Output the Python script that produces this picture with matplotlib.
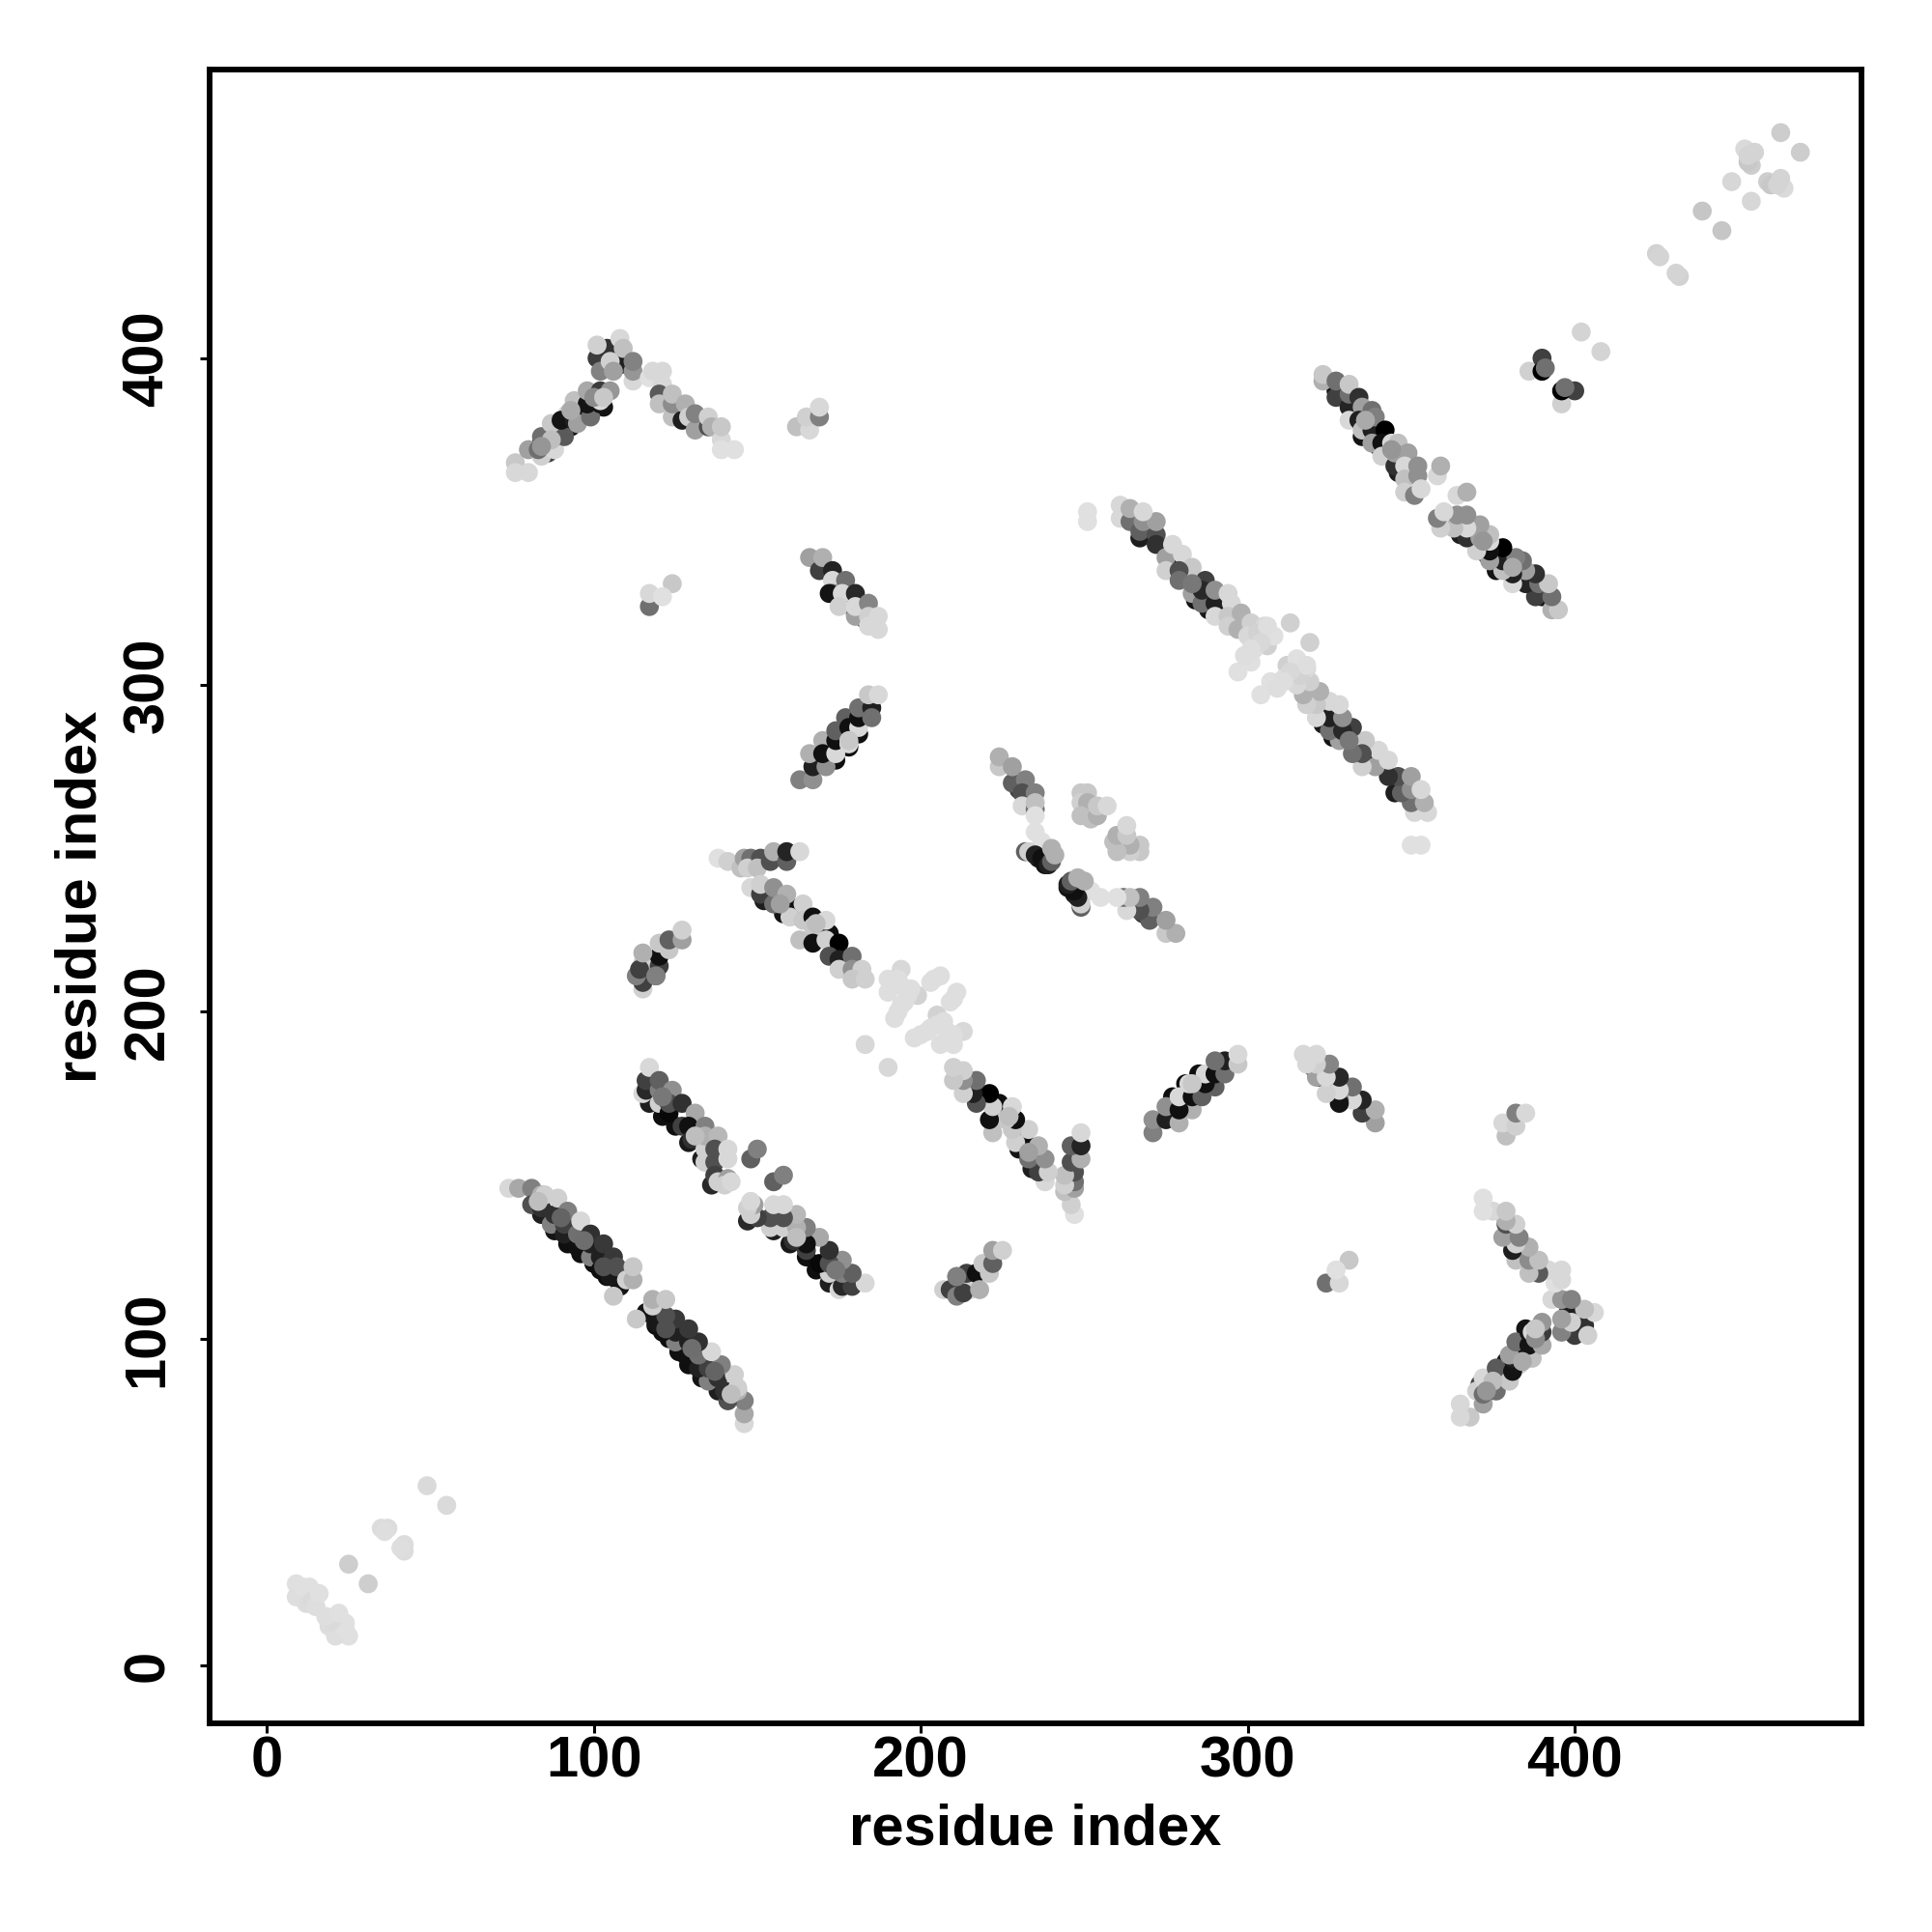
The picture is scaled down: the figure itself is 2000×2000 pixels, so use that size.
import matplotlib
matplotlib.use("Agg")
import matplotlib.pyplot as plt

# Contact map, symmetric: only i < j is listed here, the mirror is drawn too.
# g is the grey level (0 black, 255 white)
diag_low_x = [49, 35, 37, 36, 25, 9, 9, 12, 11, 13, 13, 14, 15, 16]
diag_low_y = [55, 42, 42, 41, 31, 25, 21, 19, 24, 24, 19, 20, 18, 22]
diag_low_g = [218, 220, 220, 222, 206, 224, 222, 222, 224, 224, 220, 218, 222, 224]

diag_high_x = [463, 448, 439, 425, 426, 452, 454, 453, 455, 453, 402]
diag_high_y = [469, 454, 445, 432, 431, 464, 459, 460, 463, 462, 408]
diag_high_g = [205, 215, 198, 210, 212, 218, 205, 200, 212, 212, 212]

hairpin_x = [76, 76, 80, 80, 84, 84, 83, 88, 88, 91, 87, 92, 90, 94, 95, 94, 99, 98, 98, 102, 102, 102, 105,
             101, 102, 104, 101, 108, 108, 105, 106, 109, 112, 112, 112,
             117, 118, 121, 121, 120, 120, 124, 124, 124, 127, 128, 129, 131, 131, 135, 135, 136, 139, 139, 139, 143]
hairpin_y = [368, 365, 365, 372, 376, 370, 372, 372, 376, 376, 380, 383, 381, 381, 380, 387, 382, 386, 390, 386, 390, 387, 390,
             400, 396, 403, 404, 398, 406, 399, 396, 403, 393, 396, 399,
             394, 396, 396, 392, 389, 386, 382, 386, 389, 381, 386, 382, 378, 383, 379, 382, 379, 375, 372, 379, 372]
hairpin_g = [200, 216, 216, 160, 110, 208, 110, 216, 80, 90, 200, 208, 20, 30, 160, 192, 110, 20, 168, 20, 60, 216, 150,
             60, 130, 50, 208, 30, 216, 208, 160, 192, 216, 150, 130,
             224, 216, 216, 216, 90, 192, 192, 140, 192, 30, 176, 208, 160, 130, 80, 208, 176, 216, 224, 200, 224]

small_a_x = [162, 166, 165, 169, 169]
small_a_y = [379, 378, 382, 382, 385]
small_a_g = [192, 216, 208, 128, 216]

small_b_x = [124, 117, 117, 121]
small_b_y = [331, 324, 328, 327]
small_b_g = [200, 112, 216, 224]

strand_c_x = [166, 169, 170, 173, 173, 177, 173, 172, 176, 175, 180, 180, 180, 184, 184, 187, 184, 187]
strand_c_y = [339, 335, 339, 335, 332, 332, 328, 328, 328, 324, 321, 328, 324, 325, 321, 321, 318, 317]
strand_c_g = [160, 64, 176, 36, 216, 112, 112, 20, 216, 208, 160, 40, 216, 133, 208, 216, 216, 216]

strand_d_x = [163, 167, 167, 171, 166, 170, 170, 174, 174, 174, 178, 177, 178, 181, 181, 181, 185, 185, 184, 187]
strand_d_y = [271, 271, 275, 275, 279, 283, 279, 279, 283, 286, 282, 290, 287, 287, 290, 293, 293, 290, 297, 297]
strand_d_g = [128, 144, 32, 144, 176, 176, 16, 216, 16, 96, 216, 96, 16, 216, 16, 112, 32, 112, 200, 216]

# these strands run against the diagonal, mirror gives the other half
strand_e_x = [251, 251, 261, 261, 264, 264, 267, 272, 272, 268, 272, 268, 275, 277, 280, 275, 283, 279, 283, 287, 279,
              286, 286, 290, 290, 294, 295, 290, 294, 298, 294, 297, 301, 305, 303, 306, 308, 313, 301, 297,
              300, 303, 306, 302, 304, 299, 301]
strand_e_y = [353, 350, 355, 351, 350, 354, 347, 346, 343, 350, 350, 353, 339, 343, 340, 335, 336, 335, 328, 332, 332,
              325, 329, 325, 329, 328, 325, 321, 321, 322, 318, 317, 319, 318, 314, 312, 315, 319, 307, 304,
              315, 316, 318, 311, 313, 309, 311]
strand_e_g = [224, 224, 216, 216, 112, 176, 96, 80, 48, 144, 160, 216, 160, 216, 216, 208, 200, 80, 160, 64, 112,
              112, 40, 32, 144, 216, 216, 216, 200, 176, 208, 176, 208, 216, 216, 208, 224, 208, 224, 224,
              216, 210, 222, 222, 216, 222, 222]

strand_f_x = [323, 323, 327, 327, 331, 331, 331, 331, 334, 335, 338, 334, 335, 338, 339, 342, 338, 341, 344, 346,
              341, 345, 349, 345, 348, 352, 348, 352, 348, 351, 353, 358, 359]
strand_f_y = [393, 395, 388, 393, 385, 389, 381, 392, 388, 385, 384, 381, 378, 378, 382, 378, 374, 374, 374, 374,
              370, 367, 371, 371, 367, 367, 363, 364, 359, 358, 360, 364, 367]
strand_f_g = [176, 200, 64, 112, 36, 112, 216, 200, 48, 160, 112, 32, 192, 32, 128, 0, 160, 16, 216, 192,
              208, 48, 160, 160, 216, 144, 192, 144, 208, 128, 216, 216, 176]

small_g_x = [386, 390, 390, 391]
small_g_y = [396, 400, 396, 397]
small_g_g = [208, 64, 0, 112]

strand_h_x = [138, 141, 145, 146, 148, 147, 151, 150, 154, 155, 159, 159, 163,
              148, 151, 151, 155, 155, 160, 159, 160, 164, 164, 167, 171, 167, 163, 167, 171, 175,
              172, 175, 179, 175, 179, 182, 179, 183]
strand_h_y = [247, 246, 244, 247, 247, 244, 247, 244, 246, 249, 246, 249, 249,
              238, 236, 239, 233, 238, 232, 236, 229, 233, 228, 229, 228, 226, 222, 221, 222, 221,
              217, 216, 217, 213, 213, 213, 210, 210]
strand_h_g = [224, 208, 192, 160, 112, 208, 80, 192, 80, 176, 96, 36, 216,
              216, 64, 208, 112, 144, 16, 176, 208, 208, 200, 16, 216, 200, 192, 16, 208, 0,
              80, 32, 112, 208, 144, 208, 200, 208]

blob_i_x = [190, 190, 194, 194, 199, 203, 206, 192, 194, 183, 193, 191, 196, 197, 193, 195, 204]
blob_i_y = [210, 206, 213, 208, 205, 209, 211, 198, 202, 190, 210, 208, 205, 207, 200, 203, 210]
blob_i_g = [222, 222, 216, 222, 210, 222, 222, 222, 222, 216, 222, 222, 222, 222, 222, 222, 222]

strand_j_x = [224, 224, 228, 228, 232, 231, 231, 235, 235, 235, 235, 235, 237, 232, 233, 235, 237, 239, 240, 240, 241]
strand_j_y = [275, 278, 270, 275, 271, 267, 263, 262, 267, 264, 260, 255, 252, 249, 249, 248, 247, 245, 246, 250, 248]
strand_j_g = [200, 176, 96, 160, 128, 80, 216, 112, 128, 192, 224, 224, 224, 96, 208, 32, 16, 32, 96, 176, 176]

blob_k_x = [249, 251, 249, 251, 249, 252, 254, 254, 257]
blob_k_y = [267, 267, 264, 264, 260, 259, 260, 263, 263]
blob_k_g = [200, 200, 208, 176, 192, 192, 176, 200, 216]

strand_l_x = [74, 77, 81, 81, 84, 84, 85, 87, 88, 89, 91, 91, 92, 95, 95, 96, 99, 99, 99, 102, 102, 103, 105, 106, 107,
              110, 112, 112, 106]
strand_l_y = [146, 146, 146, 141, 140, 144, 144, 135, 138, 143, 132, 135, 139, 128, 132, 136, 125, 129, 132, 121, 125, 129, 119, 125, 122,
              118, 118, 122, 113]
strand_l_g = [216, 168, 128, 80, 48, 176, 208, 128, 48, 208, 32, 64, 128, 16, 112, 216, 128, 32, 48, 16, 32, 56, 24, 56, 80,
              208, 176, 200, 200]

strand_m_x = [115, 116, 116, 117, 120, 120, 120, 124, 123, 123, 127, 127, 131, 129, 130, 134, 134, 134, 138,
              134, 137, 137, 137, 138, 141, 141, 140, 141, 142, 148, 150]
strand_m_y = [175, 176, 179, 183, 172, 176, 179, 176, 169, 172, 172, 165, 169, 165, 161, 165, 158, 162, 162,
              154, 158, 154, 150, 148, 149, 158, 147, 155, 148, 155, 158]
strand_m_g = [216, 40, 64, 216, 208, 128, 96, 144, 8, 80, 48, 64, 168, 16, 48, 128, 208, 176, 184,
              208, 80, 80, 64, 208, 160, 216, 208, 216, 216, 96, 128]

small_n_x = [115, 115, 113, 115, 114, 119, 120, 120, 115, 119, 120, 123, 123, 127, 127]
small_n_y = [207, 209, 211, 215, 213, 211, 214, 217, 218, 211, 221, 219, 222, 222, 225]
small_n_g = [208, 64, 128, 208, 64, 128, 64, 16, 176, 128, 200, 200, 96, 160, 208]

# dark contacts that only show as slivers under the lighter ones
under_x = [90, 93, 96, 99, 103, 86, 84, 173, 176, 180, 183, 170, 174, 178, 181,
           267, 279, 284, 288, 292, 276, 327, 331, 335, 340, 342, 346,
           158, 163, 168, 172, 176, 152, 230, 236, 238,
           84, 88, 92, 96, 100, 104, 108, 117, 121, 125, 129, 133, 136, 116, 119]
under_y = [379, 379, 383, 385, 385, 371, 374, 329, 326, 322, 320, 277, 277, 281, 285,
           345, 338, 326, 323, 323, 341, 390, 387, 376, 373, 371, 365,
           230, 229, 223, 224, 214, 234, 268, 247, 245,
           138, 133, 129, 126, 123, 119, 116, 172, 168, 165, 160, 155, 147, 211, 213]
under_g = [30, 20, 20, 20, 20, 70, 60, 30, 20, 30, 40, 30, 15, 15, 15,
           30, 30, 20, 25, 40, 20, 20, 25, 20, 15, 15, 30,
           20, 20, 15, 15, 30, 30, 60, 20, 20,
           30, 20, 15, 15, 15, 15, 20, 30, 15, 15, 25, 30, 40, 40, 25]

# lighter contacts lying on top of the dark ones
over_x = [93, 100, 87, 84, 103, 121, 131, 83, 90, 97, 103,
          344, 336, 168, 157, 178, 283]
over_y = [384, 388, 375, 373, 388, 174, 162, 142, 137, 130, 122,
          372, 381, 227, 233, 283, 331]
over_g = [170, 140, 190, 150, 200, 120, 190, 190, 100, 110, 80,
          150, 170, 190, 160, 200, 120]

groups = [
    (under_x, under_y, under_g),
    (diag_low_x, diag_low_y, diag_low_g),
    (diag_high_x, diag_high_y, diag_high_g),
    (blob_i_x, blob_i_y, blob_i_g),
    (small_a_x, small_a_y, small_a_g),
    (small_b_x, small_b_y, small_b_g),
    (small_g_x, small_g_y, small_g_g),
    (small_n_x, small_n_y, small_n_g),
    (strand_c_x, strand_c_y, strand_c_g),
    (strand_d_x, strand_d_y, strand_d_g),
    (strand_e_x, strand_e_y, strand_e_g),
    (strand_f_x, strand_f_y, strand_f_g),
    (strand_h_x, strand_h_y, strand_h_g),
    (strand_j_x, strand_j_y, strand_j_g),
    (blob_k_x, blob_k_y, blob_k_g),
    (strand_l_x, strand_l_y, strand_l_g),
    (strand_m_x, strand_m_y, strand_m_g),
    (hairpin_x, hairpin_y, hairpin_g),
    (over_x, over_y, over_g),
]

ticks = [0, 100, 200, 300, 400]

plt.rcParams["font.family"] = ["Liberation Sans", "DejaVu Sans"]
plt.rcParams["font.weight"] = "bold"

fig = plt.figure(figsize=(20, 20), dpi=100)
ax = fig.add_axes([217 / 2000, 1 - 1784 / 2000, 1710 / 2000, 1712 / 2000])

for xs, ys, gs in groups:
    colors = [(g / 255, g / 255, g / 255) for g in gs]
    # both triangles of the map
    ax.scatter(xs, ys, c=colors, s=200, linewidths=0)
    ax.scatter(ys, xs, c=colors, s=200, linewidths=0)

ax.set_xlim(-17.5, 487.7)
ax.set_ylim(-17.7, 488.3)
ax.set_xticks(ticks)
ax.set_yticks(ticks)
ax.tick_params(axis="both", length=7, width=2.2, labelsize=43, color="black")
ax.tick_params(axis="x", pad=2)
ax.tick_params(axis="y", pad=19)
for label in ax.get_yticklabels():
    label.set_rotation(90)
    label.set_va("center")
for spine in ax.spines.values():
    spine.set_linewidth(4.2)

ax.set_xlabel("residue index", fontsize=43, fontweight="bold", labelpad=11)
ax.set_ylabel("residue index", fontsize=43, fontweight="bold", labelpad=10.5)

fig.savefig("out.png", dpi=100)
